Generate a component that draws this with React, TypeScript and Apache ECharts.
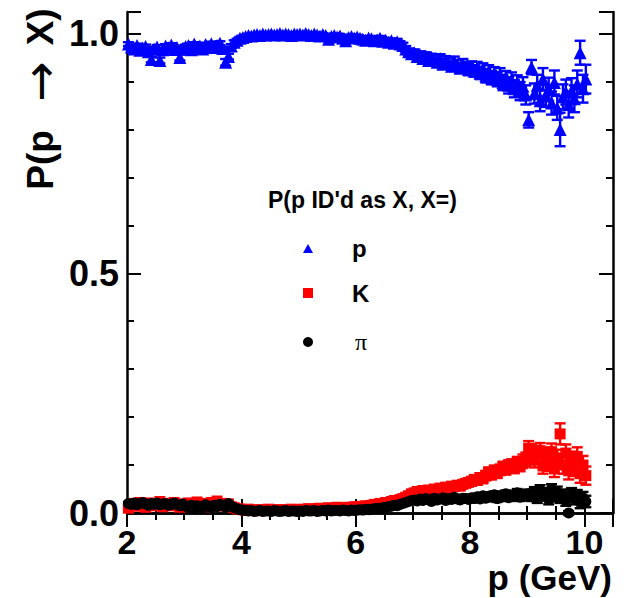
import React, { useEffect, useRef } from "react";
import * as echarts from "echarts";

// momentum bin centres (GeV), 0.05 GeV bins
const momentum = [
  2.025, 2.075, 2.125, 2.175, 2.225, 2.275, 2.325, 2.375, 2.425, 2.475, 2.525, 2.575, 2.625, 2.675, 2.725, 2.775, 2.825, 2.875, 2.925, 2.975,
  3.025, 3.075, 3.125, 3.175, 3.225, 3.275, 3.325, 3.375, 3.425, 3.475, 3.525, 3.575, 3.625, 3.675, 3.725, 3.775, 3.825, 3.875, 3.925, 3.975,
  4.025, 4.075, 4.125, 4.175, 4.225, 4.275, 4.325, 4.375, 4.425, 4.475, 4.525, 4.575, 4.625, 4.675, 4.725, 4.775, 4.825, 4.875, 4.925, 4.975,
  5.025, 5.075, 5.125, 5.175, 5.225, 5.275, 5.325, 5.375, 5.425, 5.475, 5.525, 5.575, 5.625, 5.675, 5.725, 5.775, 5.825, 5.875, 5.925, 5.975,
  6.025, 6.075, 6.125, 6.175, 6.225, 6.275, 6.325, 6.375, 6.425, 6.475, 6.525, 6.575, 6.625, 6.675, 6.725, 6.775, 6.825, 6.875, 6.925, 6.975,
  7.025, 7.075, 7.125, 7.175, 7.225, 7.275, 7.325, 7.375, 7.425, 7.475, 7.525, 7.575, 7.625, 7.675, 7.725, 7.775, 7.825, 7.875, 7.925, 7.975,
  8.025, 8.075, 8.125, 8.175, 8.225, 8.275, 8.325, 8.375, 8.425, 8.475, 8.525, 8.575, 8.625, 8.675, 8.725, 8.775, 8.825, 8.875, 8.925, 8.975,
  9.025, 9.075, 9.125, 9.175, 9.225, 9.275, 9.325, 9.375, 9.425, 9.475, 9.525, 9.575, 9.625, 9.675, 9.725, 9.775, 9.825, 9.875, 9.925, 9.975,
  10.025,
];

// P(p ID'd as p)
const protonValues = [
  0.978, 0.972, 0.968, 0.975, 0.965, 0.97, 0.973, 0.962, 0.946, 0.968, 0.972, 0.944, 0.966, 0.974, 0.97, 0.976, 0.967, 0.971, 0.95, 0.969,
  0.973, 0.975, 0.966, 0.978, 0.97, 0.974, 0.968, 0.977, 0.972, 0.979, 0.971, 0.975, 0.98, 0.969, 0.94, 0.952, 0.974, 0.982, 0.986, 0.99,
  0.992, 0.994, 0.996, 0.995, 0.997, 0.998, 0.996, 0.999, 0.997, 0.998, 0.999, 0.997, 0.998, 1.0, 0.997, 0.999, 0.998, 0.996, 0.999, 0.998,
  0.999, 0.997, 1.0, 0.998, 0.996, 0.999, 0.997, 0.995, 0.998, 0.996, 0.988, 0.994, 0.996, 0.993, 0.995, 0.99, 0.985, 0.992, 0.994, 0.991,
  0.993, 0.99, 0.988, 0.986, 0.991, 0.989, 0.985, 0.987, 0.99, 0.984, 0.986, 0.982, 0.985, 0.98, 0.983, 0.978, 0.975, 0.968, 0.962, 0.958,
  0.96, 0.952, 0.956, 0.948, 0.953, 0.944, 0.95, 0.946, 0.94, 0.948, 0.936, 0.944, 0.938, 0.932, 0.942, 0.935, 0.928, 0.936, 0.93, 0.925,
  0.93, 0.922, 0.928, 0.918, 0.925, 0.912, 0.92, 0.908, 0.915, 0.905, 0.912, 0.898, 0.906, 0.892, 0.902, 0.885, 0.895, 0.88, 0.89, 0.872,
  0.82, 0.93, 0.875, 0.892, 0.86, 0.905, 0.87, 0.884, 0.855, 0.898, 0.845, 0.8, 0.868, 0.878, 0.852, 0.88, 0.864, 0.895, 0.96, 0.885,
  0.905,
];
const protonErrors = [
  0.004, 0.004, 0.004, 0.004, 0.004, 0.004, 0.004, 0.004, 0.006, 0.004, 0.004, 0.006, 0.004, 0.004, 0.004, 0.004, 0.004, 0.004, 0.006, 0.004,
  0.004, 0.004, 0.004, 0.004, 0.004, 0.004, 0.004, 0.004, 0.004, 0.004, 0.004, 0.004, 0.004, 0.004, 0.007, 0.006, 0.004, 0.004, 0.003, 0.003,
  0.003, 0.003, 0.003, 0.003, 0.003, 0.003, 0.003, 0.003, 0.003, 0.003, 0.003, 0.003, 0.003, 0.003, 0.003, 0.003, 0.003, 0.003, 0.003, 0.003,
  0.003, 0.003, 0.003, 0.003, 0.003, 0.003, 0.003, 0.003, 0.003, 0.003, 0.004, 0.004, 0.004, 0.004, 0.004, 0.004, 0.004, 0.004, 0.004, 0.004,
  0.004, 0.004, 0.004, 0.004, 0.004, 0.005, 0.005, 0.005, 0.005, 0.005, 0.005, 0.005, 0.005, 0.006, 0.006, 0.006, 0.006, 0.006, 0.007, 0.007,
  0.007, 0.007, 0.007, 0.008, 0.008, 0.008, 0.008, 0.008, 0.009, 0.009, 0.009, 0.009, 0.01, 0.01, 0.01, 0.01, 0.011, 0.011, 0.011, 0.012,
  0.012, 0.012, 0.013, 0.013, 0.013, 0.014, 0.014, 0.014, 0.015, 0.015, 0.016, 0.016, 0.016, 0.017, 0.017, 0.018, 0.018, 0.019, 0.019, 0.02,
  0.016, 0.015, 0.021, 0.022, 0.022, 0.023, 0.023, 0.024, 0.024, 0.025, 0.025, 0.035, 0.026, 0.026, 0.027, 0.027, 0.028, 0.028, 0.025, 0.029,
  0.03,
];

// P(p ID'd as K)
const kaonValues = [
  0.01, 0.016, 0.02, 0.014, 0.022, 0.018, 0.012, 0.021, 0.017, 0.015, 0.019, 0.024, 0.013, 0.018, 0.02, 0.015, 0.022, 0.016, 0.012, 0.019,
  0.017, 0.021, 0.014, 0.019, 0.023, 0.016, 0.02, 0.013, 0.018, 0.022, 0.015, 0.025, 0.017, 0.02, 0.014, 0.019, 0.013, 0.011, 0.009, 0.008,
  0.007, 0.006, 0.008, 0.005, 0.007, 0.006, 0.005, 0.007, 0.006, 0.008, 0.006, 0.005, 0.007, 0.006, 0.007, 0.005, 0.006, 0.008, 0.006, 0.007,
  0.007, 0.008, 0.006, 0.009, 0.008, 0.007, 0.009, 0.01, 0.008, 0.009, 0.011, 0.009, 0.01, 0.012, 0.01, 0.011, 0.009, 0.012, 0.011, 0.013,
  0.012, 0.014, 0.013, 0.015, 0.014, 0.016, 0.018, 0.017, 0.02, 0.019, 0.022, 0.021, 0.024, 0.026, 0.025, 0.028, 0.03, 0.033, 0.036, 0.04,
  0.042, 0.045, 0.043, 0.047, 0.044, 0.048, 0.046, 0.05, 0.048, 0.052, 0.05, 0.054, 0.052, 0.056, 0.055, 0.058, 0.056, 0.06, 0.062, 0.064,
  0.066, 0.07, 0.068, 0.074, 0.072, 0.078, 0.085, 0.08, 0.088, 0.084, 0.09, 0.095, 0.092, 0.098, 0.1, 0.096, 0.104, 0.1, 0.108, 0.112,
  0.135, 0.128, 0.11, 0.124, 0.13, 0.098, 0.12, 0.105, 0.128, 0.092, 0.115, 0.165, 0.1, 0.125, 0.088, 0.11, 0.095, 0.118, 0.082, 0.1,
  0.078,
];
const kaonErrors = [
  0.003, 0.003, 0.003, 0.003, 0.003, 0.003, 0.003, 0.003, 0.003, 0.003, 0.003, 0.003, 0.003, 0.003, 0.003, 0.003, 0.003, 0.003, 0.003, 0.003,
  0.003, 0.003, 0.003, 0.003, 0.003, 0.003, 0.003, 0.003, 0.003, 0.003, 0.003, 0.003, 0.003, 0.003, 0.003, 0.003, 0.003, 0.003, 0.002, 0.002,
  0.002, 0.002, 0.002, 0.002, 0.002, 0.002, 0.002, 0.002, 0.002, 0.002, 0.002, 0.002, 0.002, 0.002, 0.002, 0.002, 0.002, 0.002, 0.002, 0.002,
  0.002, 0.002, 0.002, 0.002, 0.002, 0.002, 0.002, 0.002, 0.002, 0.002, 0.003, 0.003, 0.003, 0.003, 0.003, 0.003, 0.003, 0.003, 0.003, 0.003,
  0.003, 0.003, 0.003, 0.003, 0.003, 0.003, 0.004, 0.004, 0.004, 0.004, 0.004, 0.004, 0.004, 0.004, 0.005, 0.005, 0.005, 0.005, 0.005, 0.005,
  0.005, 0.006, 0.006, 0.006, 0.006, 0.006, 0.006, 0.006, 0.007, 0.007, 0.007, 0.007, 0.007, 0.007, 0.007, 0.008, 0.008, 0.008, 0.008, 0.008,
  0.009, 0.009, 0.009, 0.009, 0.01, 0.01, 0.01, 0.01, 0.011, 0.011, 0.011, 0.012, 0.012, 0.012, 0.012, 0.013, 0.013, 0.013, 0.014, 0.014,
  0.015, 0.015, 0.015, 0.016, 0.016, 0.016, 0.016, 0.017, 0.017, 0.017, 0.017, 0.022, 0.018, 0.018, 0.018, 0.018, 0.018, 0.019, 0.019, 0.019,
  0.019,
];

// P(p ID'd as pi)
const pionValues = [
  0.02, 0.018, 0.021, 0.017, 0.02, 0.022, 0.019, 0.016, 0.02, 0.018, 0.021, 0.017, 0.019, 0.02, 0.016, 0.018, 0.021, 0.017, 0.015, 0.019,
  0.014, 0.012, 0.016, 0.01, 0.015, 0.013, 0.011, 0.017, 0.014, 0.012, 0.016, 0.013, 0.018, 0.015, 0.012, 0.02, 0.014, 0.011, 0.009, 0.007,
  0.006, 0.005, 0.004, 0.005, 0.003, 0.004, 0.005, 0.003, 0.004, 0.004, 0.003, 0.005, 0.004, 0.003, 0.004, 0.005, 0.003, 0.004, 0.004, 0.003,
  0.004, 0.003, 0.005, 0.004, 0.004, 0.005, 0.003, 0.004, 0.005, 0.004, 0.006, 0.004, 0.005, 0.005, 0.004, 0.006, 0.005, 0.004, 0.006, 0.005,
  0.006, 0.007, 0.006, 0.008, 0.007, 0.008, 0.009, 0.01, 0.009, 0.011, 0.012, 0.013, 0.014, 0.016, 0.015, 0.018, 0.02, 0.022, 0.024, 0.026,
  0.027, 0.025, 0.029, 0.026, 0.03, 0.028, 0.024, 0.031, 0.027, 0.029, 0.032, 0.026, 0.03, 0.028, 0.033, 0.029, 0.027, 0.031, 0.03, 0.028,
  0.032, 0.03, 0.034, 0.029, 0.036, 0.031, 0.035, 0.033, 0.038, 0.03, 0.036, 0.034, 0.04, 0.032, 0.037, 0.035, 0.042, 0.033, 0.038, 0.036,
  0.04, 0.034, 0.045, 0.03, 0.048, 0.036, 0.042, 0.028, 0.05, 0.035, 0.044, 0.032, 0.038, 0.026, 0.0, 0.04, 0.03, 0.036, 0.022, 0.032,
  0.024,
];
const pionErrors = [
  0.003, 0.003, 0.003, 0.003, 0.003, 0.003, 0.003, 0.003, 0.003, 0.003, 0.003, 0.003, 0.003, 0.003, 0.003, 0.003, 0.003, 0.003, 0.003, 0.003,
  0.003, 0.003, 0.003, 0.003, 0.003, 0.003, 0.003, 0.003, 0.003, 0.003, 0.003, 0.003, 0.003, 0.003, 0.003, 0.003, 0.003, 0.003, 0.002, 0.002,
  0.002, 0.002, 0.002, 0.002, 0.002, 0.002, 0.002, 0.002, 0.002, 0.002, 0.002, 0.002, 0.002, 0.002, 0.002, 0.002, 0.002, 0.002, 0.002, 0.002,
  0.002, 0.002, 0.002, 0.002, 0.002, 0.002, 0.002, 0.002, 0.002, 0.002, 0.002, 0.002, 0.002, 0.002, 0.002, 0.002, 0.002, 0.002, 0.002, 0.002,
  0.003, 0.003, 0.003, 0.003, 0.003, 0.003, 0.003, 0.003, 0.003, 0.003, 0.003, 0.003, 0.003, 0.003, 0.003, 0.003, 0.003, 0.003, 0.004, 0.004,
  0.004, 0.004, 0.004, 0.004, 0.004, 0.004, 0.004, 0.004, 0.004, 0.004, 0.005, 0.005, 0.005, 0.005, 0.005, 0.005, 0.005, 0.005, 0.005, 0.005,
  0.006, 0.006, 0.006, 0.006, 0.006, 0.006, 0.006, 0.006, 0.007, 0.007, 0.007, 0.007, 0.007, 0.007, 0.007, 0.008, 0.008, 0.008, 0.008, 0.008,
  0.009, 0.009, 0.009, 0.009, 0.01, 0.01, 0.01, 0.01, 0.01, 0.011, 0.011, 0.011, 0.011, 0.011, 0.004, 0.012, 0.012, 0.012, 0.012, 0.012,
  0.012,
];

const xTickLabels = ["2", "4", "6", "8", "10"];
const yTickLabels = ["0.0", "0.5", "1.0"];
const legendTitle = "P(p ID'd as X, X=)";
const legendNames = ["p", "K", "π"];

const FONT = "'Liberation Sans', Arial, Helvetica, sans-serif";

function buildTriples(vals: number[], errs: number[]) {
  return momentum.map((x, i) => [x, vals[i], errs[i]]);
}

function errorBarSeries(data: number[][], color: string) {
  return {
    type: "custom",
    xAxisIndex: 0,
    yAxisIndex: 0,
    data,
    silent: true,
    renderItem: (params: any, api: any) => {
      const x = api.value(0);
      const y = api.value(1);
      const e = api.value(2);
      const top = api.coord([x, y + e]);
      const bot = api.coord([x, y - e]);
      const hw = 5.5;
      const style = { stroke: color, lineWidth: 2.4 };
      return {
        type: "group",
        children: [
          { type: "line", shape: { x1: top[0], y1: top[1], x2: bot[0], y2: bot[1] }, style },
          { type: "line", shape: { x1: top[0] - hw, y1: top[1], x2: top[0] + hw, y2: top[1] }, style },
          { type: "line", shape: { x1: bot[0] - hw, y1: bot[1], x2: bot[0] + hw, y2: bot[1] }, style },
        ],
      };
    },
  };
}

function pointSeries(name: string, data: number[][], color: string, symbol: string, size: number) {
  return {
    type: "scatter",
    name,
    xAxisIndex: 0,
    yAxisIndex: 0,
    data: data.map((d) => [d[0], d[1]]),
    symbol,
    symbolSize: size,
    itemStyle: { color, opacity: 1 },
    silent: true,
  };
}

export default function App() {
  const ref = useRef<HTMLDivElement>(null);

  useEffect(() => {
    if (!ref.current) return;
    const chart = echarts.init(ref.current, null, { renderer: "svg" });

    const xMin = 2;
    const xMax = 10.5;
    const yMin = 0;
    const yMax = 1.045;

    const axisLineStyle = { color: "#000", width: 2.5 };
    const tickStyle = { color: "#000", width: 2 };

    const xBase = {
      type: "value",
      min: xMin,
      max: xMax,
      gridIndex: 0,
      splitLine: { show: false },
    };
    const yBase = {
      type: "value",
      min: yMin,
      max: yMax,
      gridIndex: 0,
      splitLine: { show: false },
    };

    const option: any = {
      animation: false,
      backgroundColor: "#fff",
      grid: { left: 127, right: 12, top: 12, bottom: 85, containLabel: false, outerBoundsMode: "none" },
      xAxis: [
        {
          ...xBase,
          position: "bottom",
          interval: 2,
          axisLine: { show: true, lineStyle: axisLineStyle },
          axisTick: { show: true, inside: true, length: 14, lineStyle: tickStyle },
          axisLabel: {
            show: true,
            margin: 12,
            color: "#000",
            fontSize: 34,
            fontWeight: "bold",
            fontFamily: FONT,
            formatter: (v: number) => {
              const s = String(Math.round(v));
              return Math.abs(v - Math.round(v)) < 1e-6 && xTickLabels.includes(s) ? s : "";
            },
          },
        },
        {
          ...xBase,
          position: "bottom",
          interval: 0.5,
          axisLine: { show: false },
          axisTick: { show: true, inside: true, length: 7, lineStyle: tickStyle },
          axisLabel: { show: false },
        },
        {
          ...xBase,
          position: "top",
          interval: 2,
          axisLine: { show: true, lineStyle: axisLineStyle },
          axisTick: { show: true, inside: true, length: 14, lineStyle: tickStyle },
          axisLabel: { show: false },
        },
        {
          ...xBase,
          position: "top",
          interval: 0.5,
          axisLine: { show: false },
          axisTick: { show: true, inside: true, length: 7, lineStyle: tickStyle },
          axisLabel: { show: false },
        },
      ],
      yAxis: [
        {
          ...yBase,
          position: "left",
          interval: 0.5,
          axisLine: { show: true, lineStyle: axisLineStyle },
          axisTick: { show: true, inside: true, length: 14, lineStyle: tickStyle },
          axisLabel: {
            show: true,
            margin: 8,
            color: "#000",
            fontSize: 36,
            fontWeight: "bold",
            fontFamily: FONT,
            formatter: (v: number) => {
              const s = v.toFixed(1);
              return Math.abs(v * 2 - Math.round(v * 2)) < 1e-6 && yTickLabels.includes(s) ? s : "";
            },
          },
        },
        {
          ...yBase,
          position: "left",
          interval: 0.1,
          axisLine: { show: false },
          axisTick: { show: true, inside: true, length: 7, lineStyle: tickStyle },
          axisLabel: { show: false },
        },
        {
          ...yBase,
          position: "right",
          interval: 0.5,
          axisLine: { show: true, lineStyle: axisLineStyle },
          axisTick: { show: true, inside: true, length: 14, lineStyle: tickStyle },
          axisLabel: { show: false },
        },
        {
          ...yBase,
          position: "right",
          interval: 0.1,
          axisLine: { show: false },
          axisTick: { show: true, inside: true, length: 7, lineStyle: tickStyle },
          axisLabel: { show: false },
        },
      ],
      series: [
        errorBarSeries(buildTriples(protonValues, protonErrors), "#0000ff"),
        pointSeries("p", buildTriples(protonValues, protonErrors), "#0000ff", "triangle", 13),
        errorBarSeries(buildTriples(kaonValues, kaonErrors), "#ff0000"),
        pointSeries("K", buildTriples(kaonValues, kaonErrors), "#ff0000", "rect", 11),
        errorBarSeries(buildTriples(pionValues, pionErrors), "#000000"),
        pointSeries("π", buildTriples(pionValues, pionErrors), "#000000", "circle", 11),
      ],
      graphic: [
        // y-axis title
        {
          type: "text",
          x: 40,
          y: 99,
          rotation: Math.PI / 2,
          style: {
            text: "{a|P(p }{b|→}{a| X)}",
            align: "center",
            verticalAlign: "middle",
            rich: {
              a: { fontSize: 37, fontWeight: "bold", fontFamily: FONT, fill: "#000" },
              b: {
                fontSize: 48,
                fontWeight: "normal",
                fontFamily: "'DejaVu Sans', sans-serif",
                fill: "#000",
                padding: [0, 6, 0, 18],
              },
            },
          },
        },
        // x-axis title
        {
          type: "text",
          x: 612,
          y: 560,
          style: {
            text: "p (GeV)",
            align: "right",
            verticalAlign: "top",
            fontSize: 35,
            fontWeight: "bold",
            fontFamily: FONT,
            fill: "#000",
          },
        },
        // legend
        {
          type: "text",
          x: 268,
          y: 200,
          style: {
            text: legendTitle,
            align: "left",
            verticalAlign: "middle",
            fontSize: 23,
            fontWeight: "bold",
            fontFamily: FONT,
            fill: "#000",
          },
        },
        {
          type: "polygon",
          shape: { points: [[303, 253], [313, 253], [308, 244]] },
          style: { fill: "#0000ff" },
        },
        {
          type: "rect",
          shape: { x: 303, y: 288, width: 10, height: 10 },
          style: { fill: "#ff0000" },
        },
        {
          type: "circle",
          shape: { cx: 308, cy: 342, r: 5 },
          style: { fill: "#000" },
        },
        {
          type: "text",
          x: 352,
          y: 248,
          style: { text: legendNames[0], verticalAlign: "middle", fontSize: 24, fontWeight: "bold", fontFamily: FONT, fill: "#000" },
        },
        {
          type: "text",
          x: 352,
          y: 293,
          style: { text: legendNames[1], verticalAlign: "middle", fontSize: 24, fontWeight: "bold", fontFamily: FONT, fill: "#000" },
        },
        {
          type: "text",
          x: 355,
          y: 342,
          style: { text: legendNames[2], verticalAlign: "middle", fontSize: 24, fontWeight: "normal", fontFamily: "'Liberation Serif', 'Times New Roman', serif", fill: "#000" },
        },
      ],
    };

    chart.setOption(option);
    return () => {
      chart.dispose();
    };
  }, []);

  return (
    <div
      ref={ref}
      style={{ position: "fixed", left: 0, top: 0, width: 625, height: 598, background: "#fff" }}
    />
  );
}
